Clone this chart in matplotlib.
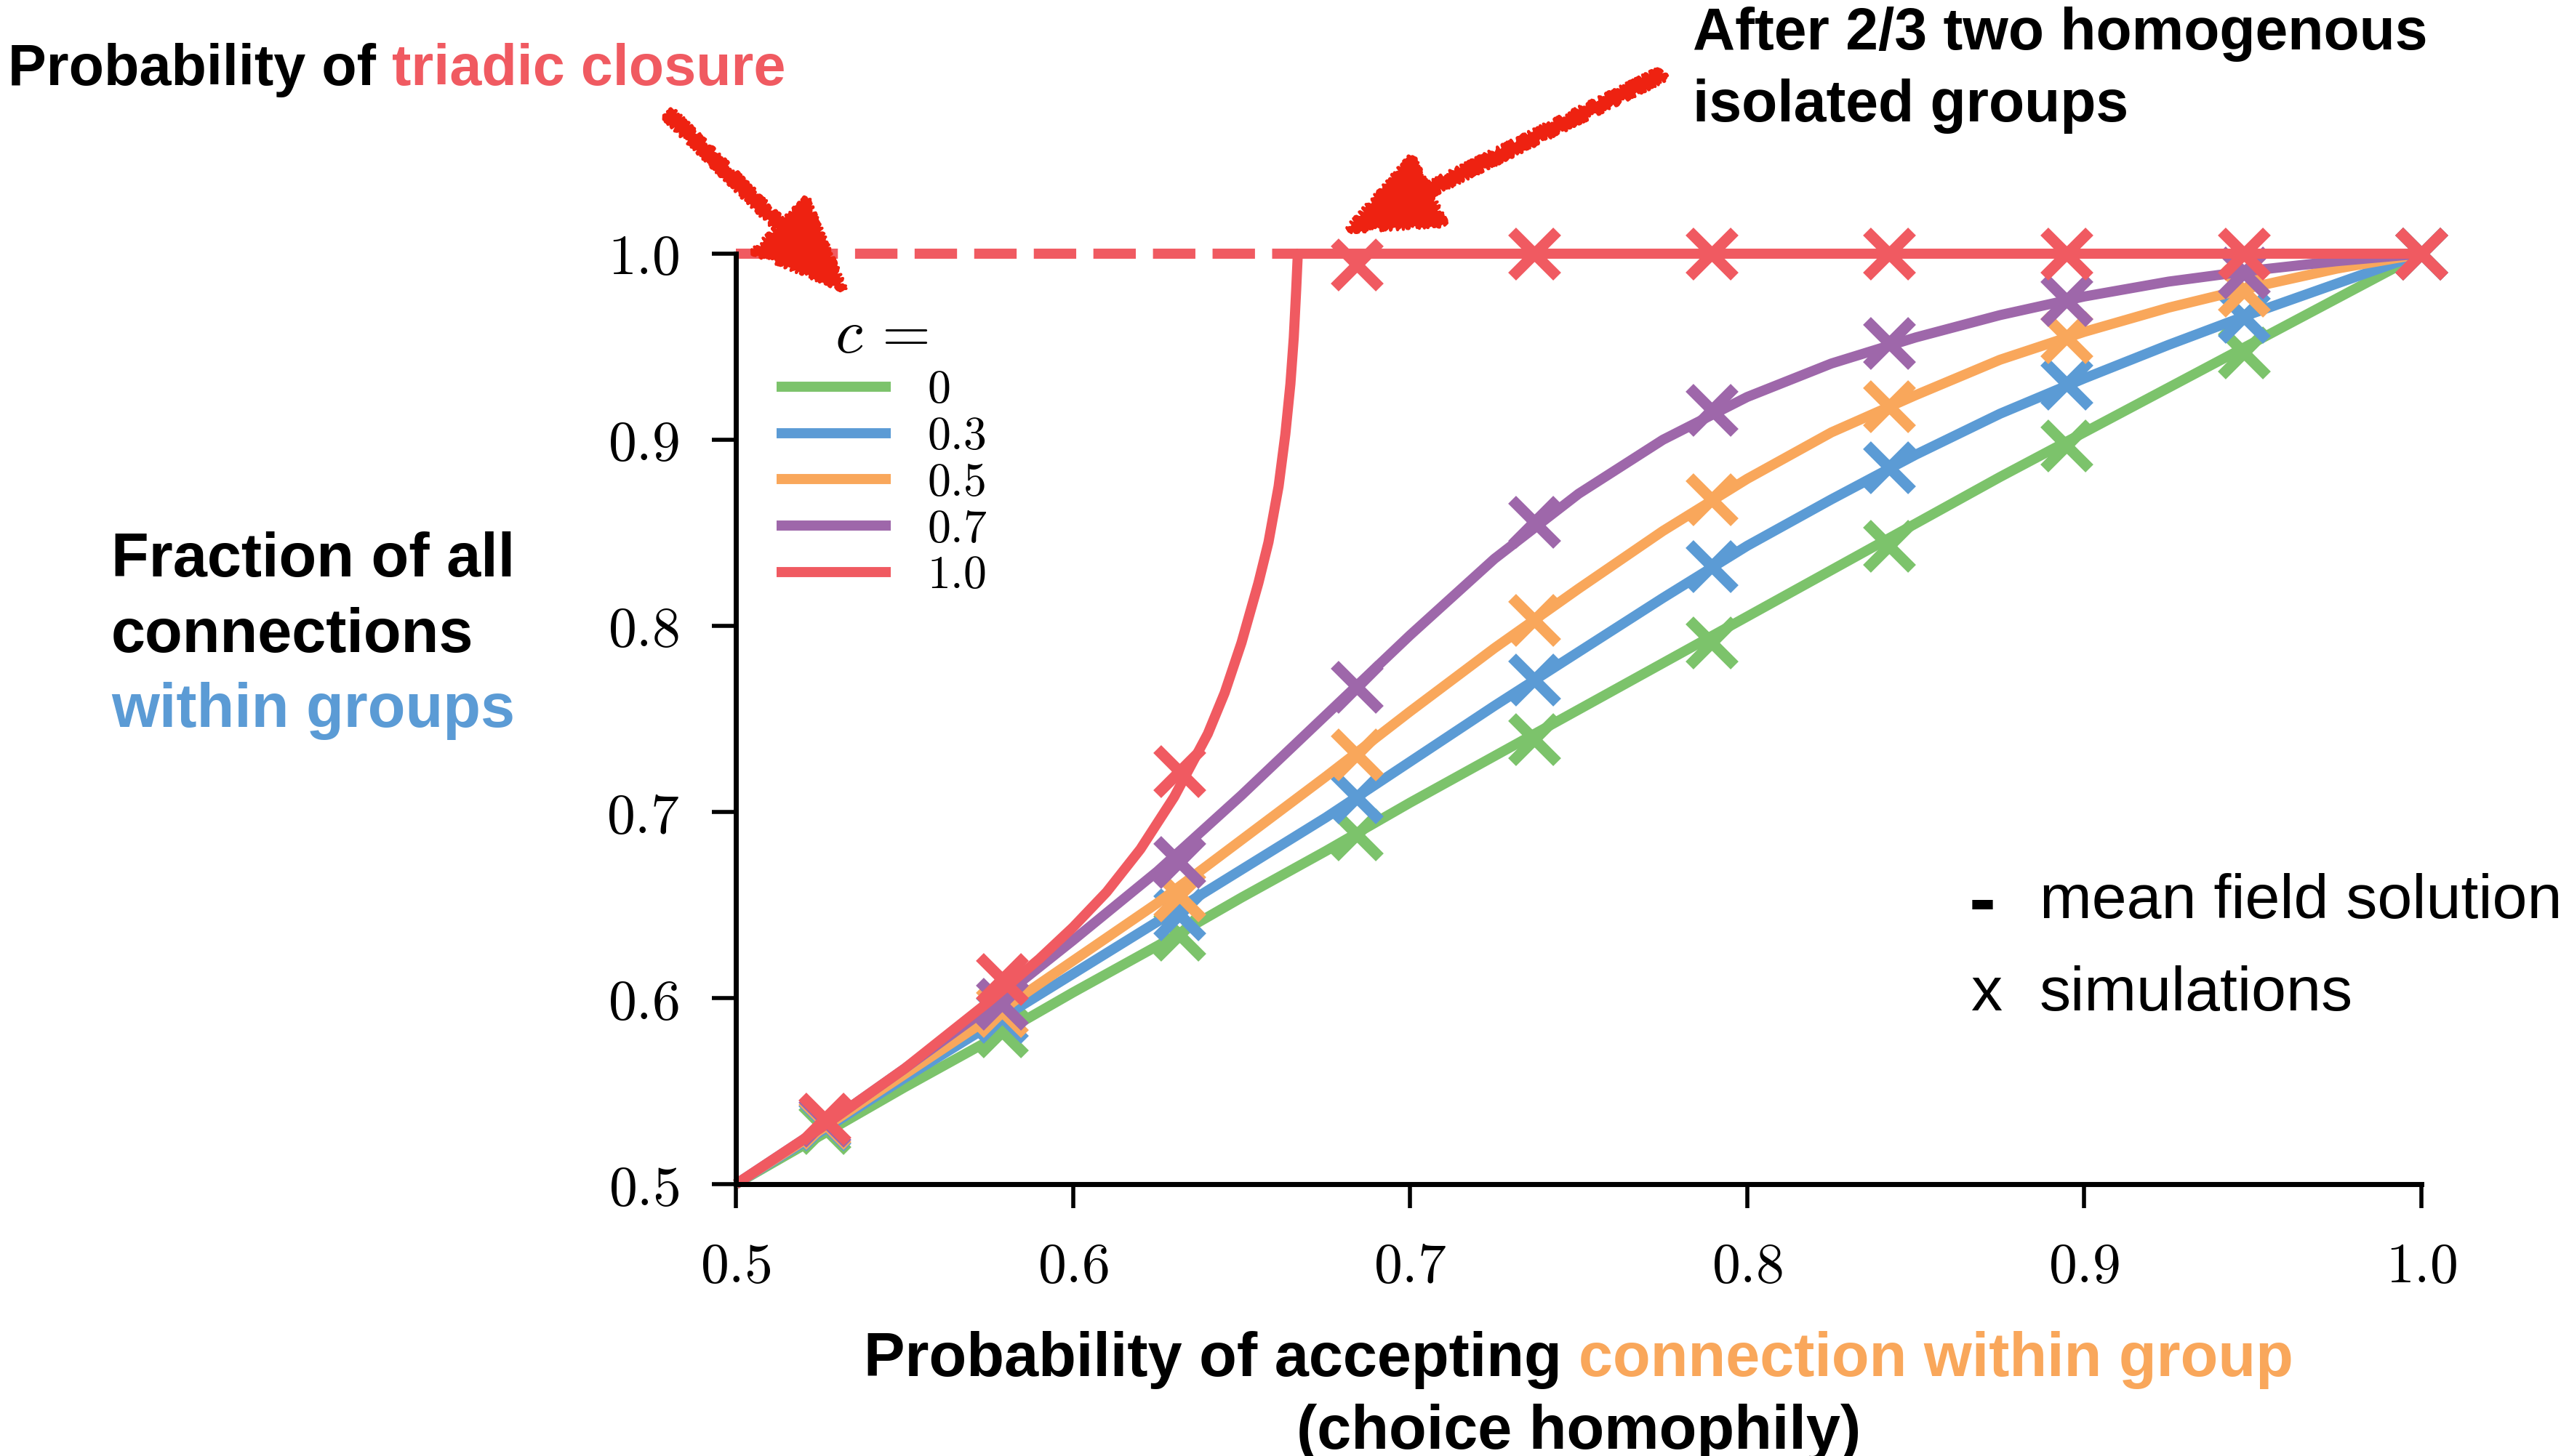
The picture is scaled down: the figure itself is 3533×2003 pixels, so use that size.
import numpy as np
import matplotlib
matplotlib.use("Agg")
import matplotlib.pyplot as plt
from matplotlib.patches import FancyArrowPatch

plt.rcParams['mathtext.fontset'] = 'cm'
plt.rcParams['font.family'] = ['Liberation Sans', 'DejaVu Sans']

# simulation points (x marks)
x_sim = [0.5263, 0.5789, 0.6316, 0.6842, 0.7368, 0.7895, 0.8421, 0.8947, 0.9474, 1.0]
sim_c0 = [0.530, 0.582, 0.634, 0.688, 0.739, 0.791, 0.843, 0.897, 0.947, 1.0]
sim_c03 = [0.532, 0.590, 0.645, 0.708, 0.771, 0.832, 0.885, 0.930, 0.966, 1.0]
sim_c05 = [0.533, 0.593, 0.655, 0.731, 0.803, 0.868, 0.918, 0.955, 0.980, 1.0]
sim_c07 = [0.534, 0.597, 0.673, 0.767, 0.856, 0.916, 0.952, 0.975, 0.990, 1.0]
sim_c1 = [0.535, 0.610, 0.722, 0.994, 1.0, 1.0, 1.0, 1.0, 1.0, 1.0]

# mean field curves
x_mf = [0.5, 0.525, 0.55, 0.575, 0.6, 0.625, 0.65, 0.675, 0.7, 0.725, 0.75,
        0.775, 0.8, 0.825, 0.85, 0.875, 0.9, 0.925, 0.95, 0.975, 1.0]
mf_c0 = [0.5, 0.526, 0.552, 0.577, 0.603, 0.628, 0.654, 0.679, 0.705, 0.730, 0.755,
         0.780, 0.805, 0.830, 0.855, 0.880, 0.904, 0.928, 0.952, 0.976, 1.0]
mf_c03 = [0.5, 0.528, 0.557, 0.585, 0.613, 0.641, 0.669, 0.697, 0.727, 0.757, 0.786,
          0.815, 0.843, 0.868, 0.892, 0.914, 0.933, 0.951, 0.968, 0.984, 1.0]
mf_c05 = [0.5, 0.529, 0.559, 0.589, 0.620, 0.651, 0.685, 0.719, 0.754, 0.788, 0.820,
          0.851, 0.879, 0.904, 0.924, 0.943, 0.958, 0.971, 0.982, 0.992, 1.0]
mf_c07 = [0.5, 0.530, 0.562, 0.595, 0.631, 0.668, 0.709, 0.752, 0.795, 0.836, 0.871,
          0.900, 0.923, 0.941, 0.955, 0.967, 0.977, 0.985, 0.991, 0.996, 1.0]
x_mf_c1 = [0.5, 0.525, 0.55, 0.575, 0.59, 0.6, 0.61, 0.62, 0.63, 0.64, 0.645, 0.65,
           0.655, 0.658, 0.661, 0.663, 0.6645, 0.6655, 0.6662, 0.6667, 1.0]
mf_c1 = [0.5, 0.530, 0.562, 0.598, 0.621, 0.638, 0.657, 0.680, 0.708, 0.742, 0.764, 0.791,
         0.823, 0.845, 0.875, 0.903, 0.930, 0.955, 0.980, 1.0, 1.0]
x_unstable = [0.5, 0.6667]
y_unstable = [1.0, 1.0]

c_labels = ['$0$', '$0.3$', '$0.5$', '$0.7$', '$1.0$']
colors = ['#7cc36b', '#5b9bd5', '#f9a75b', '#9e67aa', '#f05a61']
ticks = [0.5, 0.6, 0.7, 0.8, 0.9, 1.0]
tick_labels = ['$0.5$', '$0.6$', '$0.7$', '$0.8$', '$0.9$', '$1.0$']

W, H = 3533, 2003
fig = plt.figure(figsize=(W / 100, H / 100), dpi=100)
ax = fig.add_axes([1012 / W, 1 - 1629 / H, 2318 / W, 1280 / H])

mf_x = [x_mf, x_mf, x_mf, x_mf, x_mf_c1]
mf_y = [mf_c0, mf_c03, mf_c05, mf_c07, mf_c1]
sims = [sim_c0, sim_c03, sim_c05, sim_c07, sim_c1]
for xs, ys, sy, col, lab in zip(mf_x, mf_y, sims, colors, c_labels):
    ax.plot(xs, ys, color=col, lw=10, label=lab, clip_on=False,
            solid_capstyle='butt', solid_joinstyle='round')
    ax.plot(x_sim, sy, ls='none', marker='x', ms=44, mew=11, color=col, clip_on=False)
ax.plot(x_unstable, y_unstable, color=colors[4], lw=10, ls=(0, (4.2, 1.7)), clip_on=False)

ax.set_xlim(0.5, 1.0)
ax.set_ylim(0.5, 1.0)
ax.set_xticks(ticks)
ax.set_xticklabels(tick_labels)
ax.set_yticks(ticks)
ax.set_yticklabels(tick_labels)
for s in ['top', 'right']:
    ax.spines[s].set_visible(False)
for s in ['left', 'bottom']:
    ax.spines[s].set_linewidth(5)
ax.tick_params(direction='out', length=24, width=4, pad=32, labelsize=56)

leg = ax.legend(title='$c\\,=$', loc='upper left', bbox_to_anchor=(0.024, 0.942),
                frameon=False, fontsize=46, title_fontsize=62, handlelength=2.47,
                handletextpad=0.77, labelspacing=0.06, borderpad=0, borderaxespad=0)

rend = fig.canvas.get_renderer()


def pieces(x, y, parts, size, weight='bold', center=False):
    # draw consecutive coloured pieces of one line, x/y in pixels from top-left
    texts = []
    for s, c in parts:
        texts.append(fig.text(0, 1 - y / H, s, color=c, fontsize=size,
                              fontweight=weight, va='baseline'))
    widths = [t.get_window_extent(rend).width for t in texts]
    cur = x - sum(widths) / 2 if center else x
    for t, w in zip(texts, widths):
        t.set_x(cur / W)
        cur += w


pieces(11, 117, [('Probability of ', 'black'), ('triadic closure', colors[4])], 57)
pieces(2328, 68, [('After 2/3 two homogenous', 'black')], 58)
pieces(2328, 167, [('isolated groups', 'black')], 58)
pieces(153, 793, [('Fraction of all', 'black')], 61)
pieces(153, 897, [('connections', 'black')], 61)
pieces(153, 1000, [('within groups', colors[1])], 61)
pieces(2171, 1893, [('Probability of accepting ', 'black'),
                    ('connection within group', colors[2])], 61, center=True)
pieces(2171, 1993, [('(choice homophily)', 'black')], 61, center=True)

pieces(2708, 1273, [('-', 'black')], 80)
pieces(2710, 1390, [('x', 'black')], 62, weight='normal')
pieces(2805, 1263, [('mean field solution', 'black')], 62, weight='normal')
pieces(2805, 1390, [('simulations', 'black')], 62, weight='normal')

# hand drawn looking arrows
arrow_pts = [((918, 155), (1163, 400)), ((2290, 100), (1850, 318))]
for (xa, ya), (xb, yb) in arrow_pts:
    arr = FancyArrowPatch((xa / W, 1 - ya / H), (xb / W, 1 - yb / H),
                          transform=fig.transFigure,
                          arrowstyle='simple,head_length=1.5,head_width=1.25,tail_width=0.17',
                          mutation_scale=60, color='#ee2211', lw=3)
    arr.set_sketch_params(scale=4, length=5, randomness=25)
    fig.add_artist(arr)

fig.savefig('out.png', dpi=100)
